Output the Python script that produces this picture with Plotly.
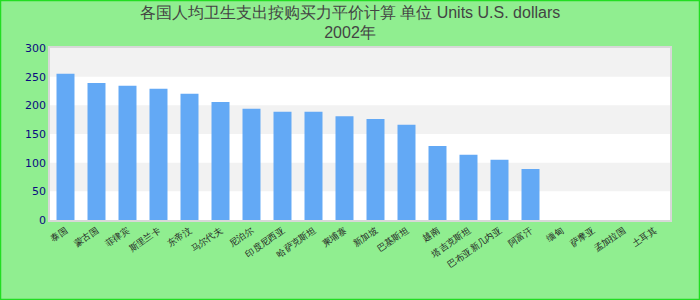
import plotly.graph_objects as go

categories = ["泰国", "蒙古国", "菲律宾", "斯里兰卡", "东帝汶", "马尔代夫", "尼泊尔",
              "印度尼西亚", "哈萨克斯坦", "柬埔寨", "新加坡", "巴基斯坦", "越南",
              "塔吉克斯坦", "巴布亚新几内亚", "阿富汗", "缅甸", "萨摩亚", "孟加拉国", "土耳其"]
values = [255, 239, 234, 229, 220, 206, 194, 189, 189, 181, 176, 166, 129, 114, 105, 89,
          None, None, None, None]
y_ticks = [0, 50, 100, 150, 200, 250, 300]
title_line1 = "各国人均卫生支出按购买力平价计算 单位 Units U.S. dollars"
title_line2 = "2002年"

W, H = 700, 300
ml, mr, mt, mb = 50, 30, 48, 80
pw, ph = W - ml - mr, H - mt - mb

fig = go.Figure()
fig.add_trace(go.Bar(x=categories, y=values, marker=dict(color="#63a9f5", line=dict(width=0)),
                     width=0.58))

shapes = []
# alternating bands
for i in range(len(y_ticks) - 1):
    if i % 2 == 1:
        shapes.append(dict(type="rect", xref="paper", yref="y", x0=0, x1=1,
                           y0=y_ticks[i], y1=y_ticks[i + 1], fillcolor="#f2f2f2",
                           line=dict(width=0), layer="below"))
# outer border
shapes.append(dict(type="rect", xref="paper", yref="paper",
                   x0=(-ml + 0.5) / pw, x1=1 + (mr - 0.5) / pw,
                   y0=(-mb + 0.5) / ph, y1=1 + (mt - 0.5) / ph,
                   line=dict(color="#22dd22", width=1.5)))

fig.update_layout(
    width=W, height=H,
    margin=dict(l=ml, r=mr, t=mt, b=mb),
    paper_bgcolor="#90ee90",
    plot_bgcolor="#ffffff",
    showlegend=False,
    shapes=shapes,
    title=dict(text=title_line1 + "<br>" + title_line2, x=0.5, xanchor="center",
               y=1 - 17.5 / H, yanchor="middle",
               font=dict(family="Liberation Sans, Arial, sans-serif", size=16, color="#444444")),
    xaxis=dict(tickangle=-35, tickfont=dict(size=9, color="#222222"),
               showline=True, mirror=True, linecolor="#d8d8d8", linewidth=1.5,
               showgrid=False, ticks="", fixedrange=True),
    yaxis=dict(range=[0, 300], tickvals=y_ticks, showgrid=False, zeroline=False,
               tickfont=dict(family="DejaVu Sans, Verdana, sans-serif", size=11, color="#0b0b80"),
               showline=True, mirror=True, linecolor="#d8d8d8", linewidth=1.5,
               ticks="", ticklen=0),
)

fig.write_html("out.html")
